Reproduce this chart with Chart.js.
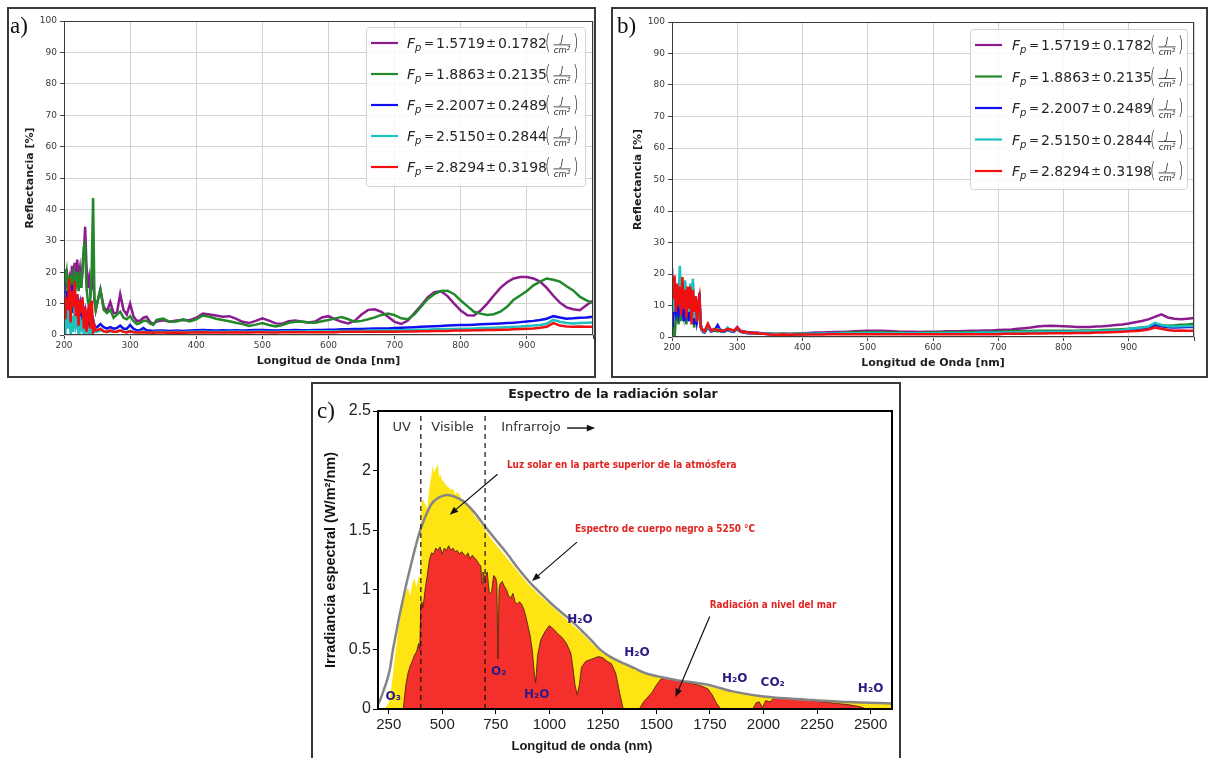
<!DOCTYPE html>
<html>
<head>
<meta charset="utf-8">
<script src="https://cdn.jsdelivr.net/npm/chart.js@4.4.1/dist/chart.umd.min.js"></script>
<style>
  body { margin: 0; background: #fff; width: 1210px; height: 758px; overflow: hidden; position: relative; }
  .frame { position: absolute; border: 2px solid #3a3a3a; box-sizing: border-box; }
  .frame canvas { position: absolute; left: 0; top: 0; }
  .tag { position: absolute; font-family: 'Liberation Serif', serif; font-size: 23px; line-height: 23px; color: #111; }
</style>
</head>
<body>
<div class="frame" style="left:7px;top:7px;width:589px;height:371px"><canvas id="chartA" width="585" height="367"></canvas></div>
<div class="frame" style="left:611px;top:7px;width:597px;height:371px"><canvas id="chartB" width="593" height="367"></canvas></div>
<div class="frame" style="left:311px;top:382px;width:590px;height:378px"><canvas id="chartC" width="586" height="374"></canvas></div>
<div class="tag" style="left:10px;top:14px">a)</div>
<div class="tag" style="left:617px;top:14px">b)</div>
<div class="tag" style="left:317px;top:399px">c)</div>
<script>
// longitudes de onda comunes a los paneles a) y b)
const waveAB = [200,202,204,206,208,210,212,214,216,218,220,222,224,226,228,230,232,234,236,238,240,242,244,246,248,250,
  255,260,265,270,275,280,285,290,295,300,305,310,315,320,325,330,335,340,
  350,360,370,380,390,400,410,420,430,440,450,460,470,480,490,500,510,520,530,540,550,560,570,580,590,600,
  610,620,630,640,650,660,670,680,690,700,710,720,730,740,750,760,770,780,790,800,810,820,830,840,850,
  860,870,880,890,900,910,920,930,940,950,960,970,980,990,1000];

// panel a)
const purpleA = [20,14,21,16,18,12,22,17,23,19,24,18,21,15,20,26,34.5,22,15,18,13,16,20,11,8,10,
  14.5,9,7.5,10.5,7,7,13,8,6.5,10,6,4.5,4.5,5.5,5.8,4.2,3.5,4.3,
  4.7,4.2,4.6,4.8,4.7,5.5,6.8,6.5,6.2,5.8, 6.0,5.2,4.2,3.8,4.5,5.3,4.6,3.7,3.6,4.4,
  4.6,4.2,4.0,4.3,5.6,6.0,5.0,4.2,3.7,4.6, 6.5,8.0,8.2,7.4,5.8,4.2,3.5,4.6,7.0,9.4,
  12.0,13.6,13.9,12.4,10.0,7.8,6.3,6.2,7.8,10.0, 12.6,15.0,16.8,18.0,18.5,18.5,18.0,17.0,15.0,12.5,
  10.3,8.8,8.2,7.9,9.5,11.0];
const greenA = [21,17,20,14,19,15,18,13,19,16,20,14,18,15,22,28,29,15,11,9,12,22,43.6,12,8,10,
  14.5,8,7,8,5.5,6.5,7.4,5.5,5,6,4.5,3.5,3.8,4.5,4.5,3.7,3.2,4.8,
  5.2,4.2,4.3,5.0,4.3,5.0,6.2,5.8,5.2,4.8, 4.4,3.9,3.5,2.9,3.3,3.8,3.2,2.7,3.2,3.9,
  4.2,4.3,4.0,3.9,4.4,4.8,5.3,5.7,5.0,4.2, 4.5,5.0,5.6,6.4,6.8,6.3,5.3,5.0,6.6,9.0,
  11.5,13.0,14.0,14.1,13.0,11.0,9.2,7.4,6.8,6.4, 6.6,7.4,9.0,11.2,12.6,14.0,15.8,17.0,18.0,17.6,
  17.0,15.5,14.2,12.2,11.0,10.2];
const blueA = [17,8,14,6,12,9,16,7,11,5,13,8,10,4,9,6,8,5,7,3,6,4,5,3,2.5,2.5,
  3.5,2.5,2,2.5,2,2.2,3,2,2,3.2,2,1.5,1.6,2.2,1.5,1.4,1.3,1.4,
  1.4,1.3,1.4,1.3,1.4,1.5,1.6,1.5,1.4,1.5, 1.4,1.5,1.4,1.5,1.6,1.6,1.5,1.4,1.5,1.5,
  1.6,1.5,1.5,1.6,1.6,1.7,1.7,1.8,1.8,1.9, 1.9,2.0,2.1,2.1,2.1,2.2,2.3,2.4,2.5,2.6,
  2.7,2.8,2.9,3.0,3.1,3.2,3.2,3.3,3.4,3.5, 3.6,3.7,3.8,3.9,4.1,4.3,4.5,4.8,5.2,6.0,
  5.6,5.2,5.3,5.5,5.6,5.8];
const cyanA = [15,0,8,2,10,0,6,1,9,3,5,0,6,2,4,0,3,1,2,0,2,1,1.5,1,1,1,
  1.5,1.2,1,1.2,1,1.1,1.4,1,1,1.3,1,0.9,1,1.1,0.9,0.9,0.9,1.0,
  1.0,0.9,1.0,0.9,1.0,1.0,1.1,1.0,1.0,1.0, 1.0,1.1,1.0,1.0,1.1,1.1,1.0,1.0,1.1,1.1,
  1.1,1.1,1.2,1.2,1.2,1.2,1.2,1.3,1.3,1.3, 1.3,1.4,1.4,1.4,1.4,1.5,1.5,1.6,1.6,1.7,
  1.7,1.8,1.8,1.9,1.9,2.0,2.0,2.1,2.2,2.2, 2.3,2.4,2.5,2.6,2.7,2.9,3.0,3.2,3.6,4.8,
  4.2,3.8,3.7,3.8,3.9,4.0];
const redA = [13,5,12,8,18,4,14,9,17,6,13,3,11,7,12,2,9,1,6,10,2,11,1,3,1.5,1.5,
  2,1.2,1,1.5,1,1,1.5,1,0.8,1.2,0.9,0.8,0.8,0.9,0.8,0.8,0.7,0.8,
  0.8,0.7,0.8,0.7,0.8,0.8,0.9,0.8,0.8,0.8, 0.8,0.9,0.8,0.8,0.9,0.9,0.8,0.8,0.9,0.9,
  0.9,0.9,0.9,0.9,0.9,0.9,0.9,1.0,1.0,1.0, 1.0,1.0,1.0,1.0,1.0,1.0,1.1,1.1,1.1,1.2,
  1.2,1.3,1.3,1.3,1.4,1.4,1.4,1.5,1.5,1.6, 1.6,1.7,1.7,1.8,1.9,2.0,2.1,2.3,2.6,3.8,
  3.0,2.7,2.6,2.7,2.6,2.6];

// panel b)
const purpleB = [22,12,18,9,16,11,19,8,15,12,17,9,14,8,16,11,17,6,13,5,10,12,4,2.5,2,1.8,
  4,2,2.5,2,2.2,2,2.5,2.2,2,3.2,2,1.8,1.5,1.5,1.4,1.4,1.3,1.2,
  1.1,1.0,1.1,1.0,1.1,1.2,1.3,1.4,1.4,1.5, 1.6,1.6,1.7,1.8,1.9,2.0,2.0,2.0,1.9,1.8,
  1.7,1.7,1.7,1.6,1.7,1.7,1.7,1.8,1.8,1.8, 1.9,2.0,2.0,2.1,2.1,2.2,2.3,2.4,2.6,2.8,
  3.0,3.3,3.5,3.6,3.5,3.4,3.3,3.2,3.2,3.2, 3.3,3.4,3.6,3.8,4.0,4.3,4.7,5.1,5.6,6.4,
  7.2,6.2,5.8,5.6,5.8,6.0];
const greenB = [8,3,0,6,9,4,12,5,10,7,13,4,11,6,14,5,12,3,9,4,8,10,3,2,1.8,1.5,
  3.5,1.8,2.2,1.8,2,1.7,2.2,2,1.8,2.5,1.8,1.5,1.3,1.3,1.2,1.2,1.1,1.1,
  1.0,0.9,1.0,0.9,1.0,1.0,1.1,1.1,1.2,1.2, 1.3,1.3,1.4,1.4,1.5,1.5,1.5,1.5,1.4,1.4,
  1.4,1.3,1.3,1.3,1.4,1.4,1.4,1.4,1.5,1.5, 1.5,1.5,1.6,1.6,1.6,1.7,1.7,1.8,1.8,1.9,
  1.9,2.0,2.0,2.0,2.0,2.0,2.0,2.0,2.1,2.1, 2.1,2.2,2.3,2.4,2.5,2.6,2.8,3.0,3.2,3.6,
  3.8,3.6,3.7,3.9,4.0,4.2];
const blueB = [9,6,12,8,11,7,9,8,10,5,12,7,9,5,11,6,13,4,9,5,8,14,4,2,1.5,1.5,
  3,1.8,2,3.8,1.8,1.6,2.5,1.8,1.6,2.8,1.6,1.4,1.2,1.3,1.2,1.1,1.1,1.0,
  0.9,0.8,0.9,0.8,0.9,0.9,1.0,1.0,1.0,1.1, 1.1,1.1,1.2,1.2,1.2,1.2,1.2,1.2,1.1,1.1,
  1.1,1.1,1.1,1.1,1.1,1.1,1.1,1.2,1.2,1.2, 1.2,1.2,1.3,1.3,1.3,1.3,1.4,1.4,1.4,1.5,
  1.5,1.5,1.6,1.6,1.6,1.6,1.6,1.7,1.7,1.7, 1.8,1.8,1.9,2.0,2.1,2.3,2.5,2.7,3.0,4.0,
  3.4,3.1,3.0,3.1,3.2,3.2];
const cyanB = [12,8,16,10,14,12,22.6,11,15,9,18,10,14,8,17,9,18.5,6,11,5,9,12,4,2,1.8,1.6,
  3.5,2,2.3,2.5,2,1.8,3,2,1.8,3,1.8,1.5,1.3,1.3,1.2,1.2,1.1,1.0,
  1.0,0.9,1.0,0.9,1.0,1.0,1.0,1.0,1.1,1.1, 1.1,1.2,1.2,1.2,1.2,1.3,1.3,1.3,1.2,1.2,
  1.2,1.2,1.2,1.2,1.2,1.2,1.2,1.3,1.3,1.3, 1.3,1.3,1.4,1.4,1.4,1.4,1.5,1.5,1.5,1.6,
  1.6,1.7,1.7,1.7,1.7,1.7,1.7,1.8,1.8,1.8, 1.9,1.9,2.0,2.1,2.2,2.6,2.8,3.0,3.3,4.5,
  3.8,3.4,3.3,3.4,3.5,3.5];
const redB = [19,12,19.5,8,17,10,16,7,19,9,15,6,16,9,16,4,15,8,13,5,11,13,3,2.5,2,1.8,
  4.2,2,2.5,2.2,2,2,2.5,2.4,2,3,1.8,1.5,1.6,1.3,1.2,1.2,1.0,1.0,
  0.8,0.7,0.8,0.7,0.8,0.8,0.8,0.8,0.8,0.9, 0.9,0.9,0.9,0.9,0.9,0.9,0.9,0.9,0.9,0.9,
  0.9,0.9,0.9,0.9,0.9,0.9,0.9,0.9,0.9,0.9, 0.9,0.9,0.9,0.9,0.9,0.9,1.0,1.0,1.0,1.0,
  1.1,1.1,1.1,1.2,1.2,1.2,1.2,1.3,1.3,1.3, 1.4,1.4,1.5,1.6,1.7,1.8,1.9,2.1,2.4,3.0,
  2.6,2.2,2.0,2.1,2.0,2.0];

const fluenceMeans = ['1.5719', '1.8863', '2.2007', '2.5150', '2.8294'];
const fluenceErrors = ['0.1782', '0.2135', '0.2489', '0.2844', '0.3198'];
const seriesColors = ['#8a1c8e', '#22882a', '#1010ee', '#1fc0c0', '#f01010'];

// panel c) espectro solar
const solarTopX = [200,230,240,250,260,270,280,290,300,310,320,330,340,350,360,370,380,390,398,402,410,420,430,440,450,455,460,470,480,485,490,
  500,510,520,530,540,550,560,570,580,590,600,610,620,630,640,650,660,670,680,690,700,720,750,800,850,900,950,1000,
  1050,1100,1150,1200,1250,1300,1400,1500,1600,1700,1800,1900,2000,2100,2200,2300,2400,2500,2600];
const solarTopY = [0,0,0.02,0.05,0.15,0.3,0.45,0.6,0.72,0.83,0.93,0.98,1.02,0.95,1.05,1.1,1.02,1.12,1.08,1.72,1.76,1.72,1.68,1.86,1.96,2.05,1.98,2.02,2.05,1.95,1.97,
  1.92,1.9,1.87,1.86,1.84,1.85,1.8,1.82,1.8,1.76,1.76,1.72,1.71,1.68,1.66,1.62,1.6,1.58,1.55,1.53,1.5,1.45,1.38,1.27,1.16,1.05,0.96,0.88,
  0.8,0.72,0.64,0.55,0.47,0.42,0.33,0.27,0.235,0.205,0.165,0.13,0.105,0.088,0.076,0.066,0.056,0.05,0.045];
const solarSeaX = [300,318,325,330,340,350,360,370,380,390,395,400,405,410,420,430,440,450,460,470,480,490,500,510,520,530,540,550,560,570,580,590,600,
  610,620,630,640,650,660,670,680,686,690,700,710,720,730,740,750,755,760,765,770,780,790,800,810,820,830,840,850,860,870,880,890,900,
  910,920,930,936,945,960,980,1000,1020,1040,1060,1080,1100,1110,1120,1130,1140,1150,1170,1200,1230,1250,1270,1290,1310,1330,1345,
  1420,1440,1460,1480,1500,1520,1550,1600,1650,1700,1740,1760,1780,1800,1950,1965,1980,1995,2010,2030,2050,2100,2150,2200,2250,2300,2350,2400,2450,2480];
const solarSeaY = [0,0,0.12,0.2,0.3,0.36,0.4,0.45,0.48,0.55,0.5,0.88,0.9,0.85,1.0,1.12,1.25,1.31,1.3,1.35,1.33,1.36,1.3,1.35,1.33,1.37,1.33,1.35,1.32,1.33,1.3,1.32,1.3,
  1.28,1.31,1.26,1.29,1.27,1.25,1.22,1.2,1.05,1.15,1.1,1.15,0.97,0.98,1.12,1.1,1.05,0.42,1.0,1.05,1.07,1.03,1.0,0.95,0.93,0.97,0.9,0.88,0.9,0.88,0.84,0.78,0.7,
  0.62,0.5,0.3,0.22,0.45,0.58,0.65,0.7,0.67,0.63,0.6,0.55,0.47,0.35,0.2,0.12,0.2,0.35,0.4,0.42,0.44,0.43,0.4,0.38,0.3,0.12,0,
  0,0.06,0.1,0.14,0.2,0.25,0.26,0.24,0.22,0.2,0.17,0.12,0.05,0,0,0.05,0.06,0.01,0.07,0.06,0.09,0.09,0.085,0.075,0.065,0.055,0.045,0.035,0.02,0];
const blackbodyX = [200,210,225,242,255,270,285,300,319,335,350,375,397,425,450,480,521,560,600,650,700,750,800,850,910,960,1000,1050,1097,1150,1200,
  1236,1283,1350,1400,1450,1516,1600,1680,1749,1850,1982,2100,2230,2400,2600];
const blackbodyY = [0.04,0.075,0.15,0.24,0.33,0.5,0.64,0.78,0.94,1.07,1.18,1.36,1.5,1.63,1.72,1.77,1.795,1.78,1.74,1.65,1.53,1.42,1.31,1.19,1.06,0.97,0.9,0.82,0.75,0.66,0.57,
  0.5,0.44,0.38,0.34,0.3,0.27,0.24,0.22,0.2,0.15,0.11,0.09,0.075,0.058,0.047];
const bandLimits = [400, 700];

const bandLabels = ['UV', 'Visible', 'Infrarrojo'];
const bandLabelX = [311, 548, 775];
const bandLabelY = 2.357;
const noteTexts = ['Luz solar en la parte superior de la atmósfera', 'Espectro de cuerpo negro a 5250 °C', 'Radiación a nivel del mar'];
const noteX = [802, 1120, 1749];
const noteY = [2.047, 1.506, 0.872];
const noteArrows = [[758, 1.97, 535, 1.63], [1129, 1.40, 919, 1.074], [1749, 0.776, 1589, 0.10]];
const irArrow = [1083, 2.357, 1214, 2.357];
const gasLabels = ['O₃', 'O₂', 'H₂O', 'H₂O', 'H₂O', 'H₂O', 'CO₂', 'H₂O'];
const gasX = [271, 764, 941, 1143, 1409, 1866, 2043, 2500];
const gasY = [0.10, 0.31, 0.12, 0.75, 0.47, 0.25, 0.22, 0.17];

const pts = (xs, ys) => xs.map((x, i) => ({x: x, y: ys[i]}));

const tickFont = {family: "'DejaVu Sans'", size: 9};
const axisTitleFont = {family: "'DejaVu Sans'", size: 11, weight: 'bold'};

function drawFpLegend(chart, box) {
  const {ctx, chartArea} = chart;
  const left = chartArea.right - box.offsetRight - box.width;
  const top = chartArea.top + box.offsetTop;
  ctx.save();
  ctx.beginPath();
  ctx.roundRect(left + 0.5, top + 0.5, box.width, box.height, 3);
  ctx.fillStyle = 'rgba(255,255,255,0.85)';
  ctx.fill();
  ctx.strokeStyle = '#d3d3d3';
  ctx.lineWidth = 1;
  ctx.stroke();
  fluenceMeans.forEach((m, i) => {
    const c = top + box.firstRow + i * box.rowGap;
    ctx.strokeStyle = seriesColors[i];
    ctx.lineWidth = 2.2;
    ctx.beginPath();
    ctx.moveTo(left + 5, c);
    ctx.lineTo(left + 32, c);
    ctx.stroke();

    const x0 = left + box.textLeft;
    const base = c + 5;
    ctx.fillStyle = '#262626';
    ctx.textBaseline = 'alphabetic';
    ctx.textAlign = 'left';
    ctx.font = "italic 14px 'DejaVu Sans'";
    ctx.fillText('F', x0, base);
    ctx.font = "italic 10px 'DejaVu Sans'";
    ctx.fillText('p', x0 + 8, base + 3);
    ctx.font = "12px 'DejaVu Sans'";
    ctx.fillText('=', x0 + 17, base - 1);
    ctx.fillText('±', x0 + 79, base - 1);
    ctx.font = "14px 'DejaVu Sans'";
    ctx.fillText(m, x0 + 29, base);
    ctx.fillText(fluenceErrors[i], x0 + 91, base);
    // paréntesis altos con la fracción J/cm²
    [['(', 138], [')', 166]].forEach(([p, dx]) => {
      ctx.save();
      ctx.translate(x0 + dx, c + 1);
      ctx.scale(1, 1.45);
      ctx.textBaseline = 'middle';
      ctx.font = "300 14px 'DejaVu Sans'";
      ctx.fillText(p, 0, 0);
      ctx.restore();
    });
    ctx.textAlign = 'center';
    ctx.font = "italic 8px 'DejaVu Sans'";
    ctx.fillText('J', x0 + 155, c - 1);
    ctx.font = "italic 8.5px 'DejaVu Sans'";
    ctx.fillText('cm²', x0 + 155, c + 10);
    ctx.fillRect(x0 + 146.5, c + 1.5, 17, 0.8);
  });
  ctx.restore();
}

function reflectanceChart(id, series, box) {
  const framePlugin = {
    id: 'frame_' + id,
    afterDatasetsDraw(chart) {
      const {ctx, chartArea: a} = chart;
      ctx.save();
      ctx.strokeStyle = '#3c3c3c';
      ctx.lineWidth = 1;
      ctx.strokeRect(a.left + 0.5, a.top + 0.5, a.right - a.left - 1, a.bottom - a.top - 1);
      ctx.restore();
    },
    afterDraw(chart) { drawFpLegend(chart, box); }
  };
  const labels = fluenceMeans.map((m, i) => 'Fp = ' + m + ' ± ' + fluenceErrors[i] + ' (J/cm²)');
  return new Chart(document.getElementById(id).getContext('2d'), {
    type: 'scatter',
    data: {
      datasets: series.map((ys, i) => ({
        label: labels[i],
        data: pts(waveAB, ys),
        showLine: true,
        pointRadius: 0,
        borderColor: seriesColors[i],
        borderWidth: 2.5,
        order: 5 - i,
      })),
    },
    options: {
      responsive: false,
      animation: false,
      devicePixelRatio: 1,
      layout: {padding: {left: 0, right: box.padRight, top: box.padTop, bottom: 0}},
      plugins: {legend: {display: false}, tooltip: {enabled: false}},
      scales: {
        x: {
          type: 'linear', min: 200, max: 1000,
          ticks: {stepSize: 100, font: tickFont, color: '#3a3a3a', padding: 1, maxRotation: 0,
                  callback: (v) => (v >= 1000 ? '' : String(v))},
          grid: {color: '#d2d2d2', lineWidth: 1, tickLength: 4, tickColor: '#444'},
          border: {display: false},
          title: {display: true, text: 'Longitud de Onda [nm]', font: axisTitleFont, color: '#1e1e1e', padding: {top: 0, bottom: box.xTitlePad}},
          afterFit: (s) => { s.height = box.xHeight; },
        },
        y: {
          min: 0, max: 100,
          ticks: {stepSize: 10, font: tickFont, color: '#3a3a3a', padding: 3},
          grid: {color: '#d2d2d2', lineWidth: 1, tickLength: 4, tickColor: '#444'},
          border: {display: false},
          title: {display: true, text: 'Reflectancia [%]', font: axisTitleFont, color: '#1e1e1e', padding: {top: box.yTitlePad, bottom: 0}},
          afterFit: (s) => { s.width = box.yWidth; },
        },
      },
    },
    plugins: [framePlugin],
  });
}

reflectanceChart('chartA', [purpleA, greenA, blueA, cyanA, redA], {
  padRight: 1, padTop: 12, yWidth: 55, xHeight: 41, yTitlePad: 14.4, xTitlePad: 8.4,
  offsetRight: 8, offsetTop: 6, width: 219, height: 159, firstRow: 16, rowGap: 31, textLeft: 41,
});
reflectanceChart('chartB', [purpleB, greenB, blueB, cyanB, redB], {
  padRight: 12, padTop: 13, yWidth: 59, xHeight: 39, yTitlePad: 18.4, xTitlePad: 5.9,
  offsetRight: 7, offsetTop: 7, width: 217, height: 160, firstRow: 16, rowGap: 31.5, textLeft: 42,
});

function drawArrow(ctx, x1, y1, x2, y2, head) {
  const a = Math.atan2(y2 - y1, x2 - x1);
  ctx.beginPath();
  ctx.moveTo(x1, y1);
  ctx.lineTo(x2 - Math.cos(a) * head * 0.7, y2 - Math.sin(a) * head * 0.7);
  ctx.stroke();
  ctx.beginPath();
  ctx.moveTo(x2, y2);
  ctx.lineTo(x2 - head * Math.cos(a - 0.38), y2 - head * Math.sin(a - 0.38));
  ctx.lineTo(x2 - head * Math.cos(a + 0.38), y2 - head * Math.sin(a + 0.38));
  ctx.closePath();
  ctx.fill();
}

const solarPlugin = {
  id: 'solarNotes',
  afterDraw(chart) {
    const {ctx, chartArea: a, scales} = chart;
    const X = (v) => scales.x.getPixelForValue(v);
    const Y = (v) => scales.y.getPixelForValue(v);
    ctx.save();
    ctx.strokeStyle = '#000';
    ctx.lineWidth = 2;
    ctx.strokeRect(a.left, a.top, a.right - a.left, a.bottom - a.top);

    ctx.fillStyle = '#1a1a1a';
    ctx.textAlign = 'center';
    ctx.textBaseline = 'middle';
    ctx.font = "bold 12.5px 'DejaVu Sans'";
    ctx.fillText('Espectro de la radiación solar', a.left + 235, 11);
    ctx.font = "bold 13px 'Liberation Sans'";
    ctx.fillText('Longitud de onda (nm)', X(1152), a.bottom + 37);

    ctx.fillStyle = '#333';
    ctx.font = "13px 'DejaVu Sans'";
    bandLabels.forEach((t, i) => {
      ctx.textAlign = i === 2 ? 'left' : 'center';
      ctx.fillText(t, X(bandLabelX[i]), Y(bandLabelY));
    });
    ctx.fillStyle = '#111';
    ctx.strokeStyle = '#111';
    ctx.lineWidth = 1.4;
    drawArrow(ctx, X(irArrow[0]), Y(irArrow[1]), X(irArrow[2]), Y(irArrow[3]), 9);

    ctx.textAlign = 'left';
    ctx.fillStyle = '#e2231f';
    ctx.font = "bold 9.9px 'DejaVu Sans Condensed', 'Liberation Sans Narrow', 'Liberation Sans'";
    noteTexts.forEach((t, i) => ctx.fillText(t, X(noteX[i]), Y(noteY[i])));

    ctx.fillStyle = '#111';
    ctx.strokeStyle = '#111';
    ctx.lineWidth = 1.2;
    noteArrows.forEach((r) => drawArrow(ctx, X(r[0]), Y(r[1]), X(r[2]), Y(r[3]), 9));

    ctx.textAlign = 'center';
    ctx.fillStyle = '#2d1b86';
    ctx.font = "bold 12px 'DejaVu Sans'";
    gasLabels.forEach((t, i) => ctx.fillText(t, X(gasX[i]), Y(gasY[i])));
    ctx.restore();
  },
};

new Chart(document.getElementById('chartC').getContext('2d'), {
  type: 'scatter',
  data: {
    datasets: [
      {label: 'Límite UV', data: pts([bandLimits[0], bandLimits[0]], [0, 2.5]), showLine: true, pointRadius: 0, borderColor: '#111', borderWidth: 1.2, borderDash: [5, 4]},
      {label: 'Límite IR', data: pts([bandLimits[1], bandLimits[1]], [0, 2.5]), showLine: true, pointRadius: 0, borderColor: '#111', borderWidth: 1.2, borderDash: [5, 4]},
      {label: 'Espectro de cuerpo negro', data: pts(blackbodyX, blackbodyY), showLine: true, pointRadius: 0, borderColor: '#858585', borderWidth: 2.5, tension: 0.3},
      {label: 'Radiación a nivel del mar', data: pts(solarSeaX, solarSeaY), showLine: true, pointRadius: 0, borderColor: '#3a1a10', borderWidth: 0.8, backgroundColor: '#f4302c', fill: 'origin'},
      {label: 'Luz solar en la parte superior', data: pts(solarTopX, solarTopY), showLine: true, pointRadius: 0, borderWidth: 0, borderColor: 'rgba(0,0,0,0)', backgroundColor: '#ffe414', fill: 'origin'},
    ],
  },
  options: {
    responsive: false,
    animation: false,
    devicePixelRatio: 1,
    layout: {padding: {left: 0, right: 7, top: 27, bottom: 0}},
    plugins: {legend: {display: false}, tooltip: {enabled: false}},
    scales: {
      x: {
        type: 'linear', min: 200, max: 2600,
        ticks: {stepSize: 250, includeBounds: false, font: {family: "'Liberation Sans'", size: 15}, color: '#222', padding: 2, maxRotation: 0,
                callback: (v) => String(v)},
        grid: {display: true, drawOnChartArea: false, drawTicks: true, tickLength: 5, color: '#000'},
        border: {display: false},
        title: {display: false},
        afterFit: (s) => { s.height = 49; },
      },
      y: {
        min: 0, max: 2.5,
        ticks: {stepSize: 0.5, font: {family: "'Liberation Sans'", size: 16}, color: '#222', padding: 2, callback: (v) => String(v)},
        grid: {display: true, drawOnChartArea: false, drawTicks: true, tickLength: 5, color: '#000'},
        border: {display: false},
        title: {display: true, text: 'Irradiancia espectral (W/m²/nm)', font: {family: "'Liberation Sans'", size: 14.5, weight: 'bold'}, color: '#111', padding: {top: 9.5, bottom: 0}},
        afterFit: (s) => { s.width = 65; },
      },
    },
  },
  plugins: [solarPlugin],
});
</script>
</body>
</html>
